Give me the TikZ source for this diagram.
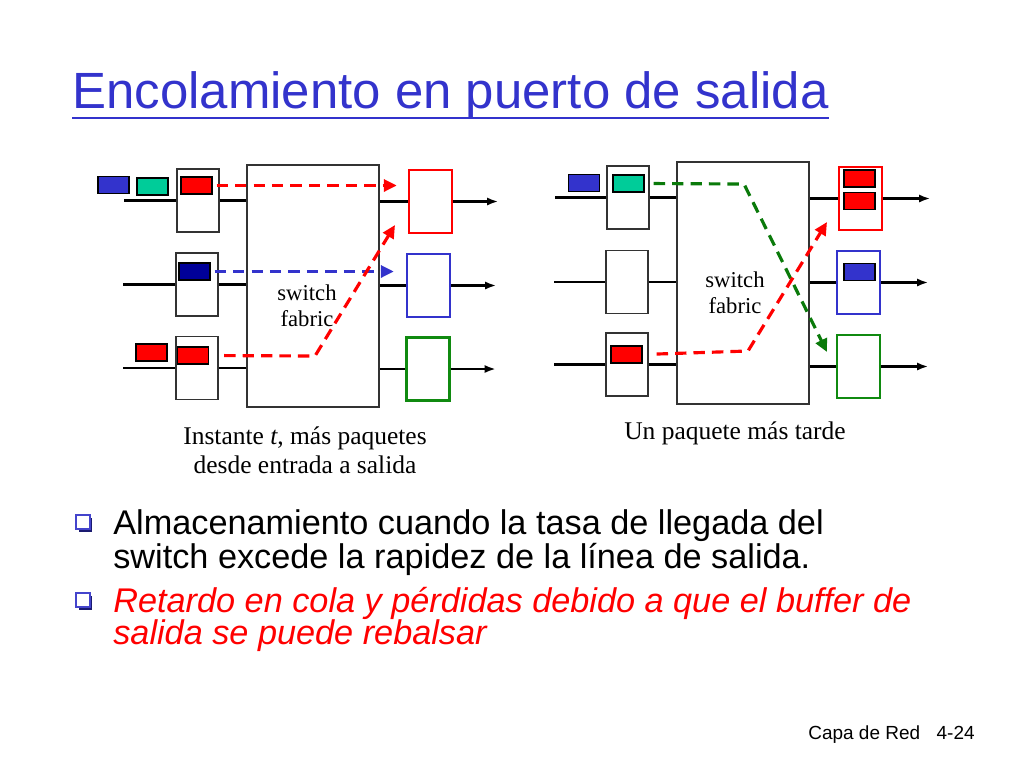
\documentclass[tikz,border=0pt]{standalone}
\usepackage{fontspec}
\setmainfont{Liberation Serif}
\setsansfont{Liberation Sans}
\usetikzlibrary{arrows.meta,positioning,calc,shadows}
\definecolor{titleblue}{HTML}{3333CC}
\definecolor{pktblue}{HTML}{3333CC}
\definecolor{pktnavy}{HTML}{000099}
\definecolor{pktteal}{HTML}{00CC99}
\definecolor{pktred}{HTML}{FF0000}
\definecolor{outgreen}{HTML}{108A10}
\definecolor{dashgreen}{HTML}{0A7A0A}
\definecolor{dashblue}{HTML}{3333CC}
\definecolor{bulletblue}{HTML}{4444CC}
\definecolor{bulletdark}{HTML}{1A1A70}
\definecolor{boxgray}{HTML}{333333}

\begin{document}
\begin{tikzpicture}[
    x=0.02cm, y=-0.02cm,
    >=Latex,
    every node/.style={font=\rmfamily},
    portbox/.style={
        draw=boxgray, fill=white, line width=1pt,
        minimum width=0.84cm, minimum height=1.26cm, inner sep=0pt
    },
    fabricbox/.style={
        draw=boxgray, fill=white, line width=1pt,
        minimum width=2.64cm, minimum height=4.84cm, inner sep=0pt
    },
    outbox/.style={
        draw=#1, fill=white, line width=1.4pt,
        minimum width=0.86cm, minimum height=1.26cm, inner sep=0pt
    },
    pkt/.style={
        draw=black, fill=#1, line width=0.7pt,
        minimum width=0.62cm, minimum height=0.34cm, inner sep=0pt
    },
    wire/.style={black, line width=1.6pt},
    outwire/.style={wire, -{Latex[length=0.22cm,width=0.16cm]}},
    flow/.style={
        #1, line width=1.8pt, dash pattern=on 6.5pt off 4pt,
        -{Triangle[length=0.26cm,width=0.24cm]}
    },
    caption/.style={font=\fontsize{14.5}{16.5}\selectfont\rmfamily, align=center},
    fabriclabel/.style={font=\fontsize{12.9}{14.8}\selectfont\rmfamily, align=center},
    bulletbox/.style={
        draw=bulletblue, fill=white, line width=1pt, minimum size=0.28cm, inner sep=0pt,
        drop shadow={shadow xshift=0.05cm, shadow yshift=-0.05cm, fill=bulletdark, opacity=1}
    },
    bodytext/.style={font=\fontsize{19.5}{18.2}\selectfont\sffamily, align=left, inner sep=0pt},
]
\useasboundingbox (0,0) rectangle (1024,768);

% ===== Title =====
\node[font=\fontsize{29}{33}\selectfont\sffamily, text=titleblue, anchor=base west, inner sep=0pt]
    (title) at (72,108) {Encolamiento en puerto de salida};
\draw[titleblue, line width=1.6pt] (title.base west |- 0,118) -- (title.base east |- 0,118);

% ===== Left diagram: input ports =====
\node[portbox] (lp1) at (198,200.5) {};
\node[portbox] (lp2) at (197,284.5) {};
\node[portbox] (lp3) at (197,368) {};
\node[fabricbox] (lfab) at (313,286) {};
\node[fabriclabel] (lfablabel) at (307,306) {switch\\fabric};

% input packets
\node[pkt=pktblue] (lpkb) at (113.5,185) {};
\node[pkt=pktteal] (lpkt) at (152.5,186.5) {};
\node[pkt=pktred]  (lpk1) at (196.5,185.5) {};
\node[pkt=pktnavy] (lpk2) at (194.5,271.5) {};
\node[pkt=pktred]  (lpk3o) at (151.5,352.5) {};
\node[pkt=pktred]  (lpk3) at (193,355.5) {};

% ===== Left diagram: output ports =====
\node[outbox=pktred]   (lo1) at (430.5,201.5) {};
\node[outbox=pktblue]  (lo2) at (428.5,285.5) {};
\node[outbox=outgreen] (lo3) at (428,369) {};

% wires
\foreach \p in {lp1,lp2,lp3} {
    \draw[wire] (\p.west) -- ++(-52,0);
    \draw[wire] (\p.east) -- (\p.east -| lfab.west);
}
\foreach \o in {lo1,lo2,lo3} {
    \draw[wire] (\o.west -| lfab.east) -- (\o.west);
    \draw[outwire] (\o.east) -- ++(45,0);
}

% flows
\coordinate (lbend) at (315,356);
\coordinate (lend) at (395,225);
\draw[flow=pktred, shorten <=0.08cm, shorten >=0.22cm] (lpk1.east) -- (lpk1.east -| lo1.west);
\draw[flow=dashblue, shorten <=0.08cm, shorten >=0.24cm] (lpk2.east) -- (lpk2.east -| lo2.west);
\draw[flow=pktred, shorten <=0.3cm] (lpk3.east) -- (lbend) -- (lend);

\node[caption] (lcap) at (305,450) {Instante \textit{t}, más paquetes\\desde entrada a salida};

% ===== Right diagram: input ports =====
\node[portbox] (rp1) at (628,197.5) {};
\node[portbox] (rp2) at (627,282) {};
\node[portbox] (rp3) at (627,364.5) {};
\node[fabricbox] (rfab) at (743,283) {};
\node[fabriclabel] (rfablabel) at (735,293) {switch\\fabric};

% input packets
\node[pkt=pktblue] (rpkb) at (584,183) {};
\node[pkt=pktteal] (rpkt) at (628.5,183.5) {};
\node[pkt=pktred]  (rpk3) at (626.5,354.5) {};

% ===== Right diagram: output ports =====
\node[outbox=pktred]   (ro1) at (860.5,198.5) {};
\node[outbox=pktblue]  (ro2) at (858.5,282.5) {};
\node[outbox=outgreen] (ro3) at (858.5,366.5) {};
\node[pkt=pktred]  (ro1a) at (859.5,178.5) {};
\node[pkt=pktred]  (ro1b) at (859.5,201) {};
\node[pkt=pktblue] (ro2a) at (859.5,272) {};

% wires
\foreach \p in {rp1,rp2,rp3} {
    \draw[wire] (\p.west) -- ++(-51,0);
    \draw[wire] (\p.east) -- (\p.east -| rfab.west);
}
\foreach \o in {ro1,ro2,ro3} {
    \draw[wire] (\o.west -| rfab.east) -- (\o.west);
    \draw[outwire] (\o.east) -- ++(47,0);
}

% flows
\coordinate (rgbend) at (744,184);
\coordinate (rgend) at (827,352);
\coordinate (rrbend) at (748,351);
\coordinate (rrend) at (827,222);
\draw[flow=dashgreen, shorten <=0.18cm] (rpkt.east) -- (rgbend) -- (rgend);
\draw[flow=pktred, shorten <=0.28cm] (rpk3.east) -- (rrbend) -- (rrend);

\node[caption] (rcap) at (735,433) {Un paquete más tarde};

% ===== Bullets =====
\node[bulletbox] (b1) at (83,522) {};
\node[bulletbox] (b2) at (83,600) {};
\node[bodytext, anchor=north west] (t1) at (113,509)
    {Almacenamiento cuando la tasa de llegada del\\switch excede la rapidez de la línea de salida.};
\node[bodytext, anchor=north west, text=pktred] (t2) at (113,587)
    {\itshape Retardo en cola y pérdidas debido a que el buffer de\\\itshape salida se puede rebalsar};

% ===== Footer =====
\node[font=\fontsize{10.8}{13}\selectfont\sffamily, anchor=base west, inner sep=0pt] (foot) at (808,739) {Capa de Red};
\node[font=\fontsize{10.8}{13}\selectfont\sffamily, anchor=base east, inner sep=0pt] (page) at (975,739) {4-24};

\end{tikzpicture}
\end{document}
